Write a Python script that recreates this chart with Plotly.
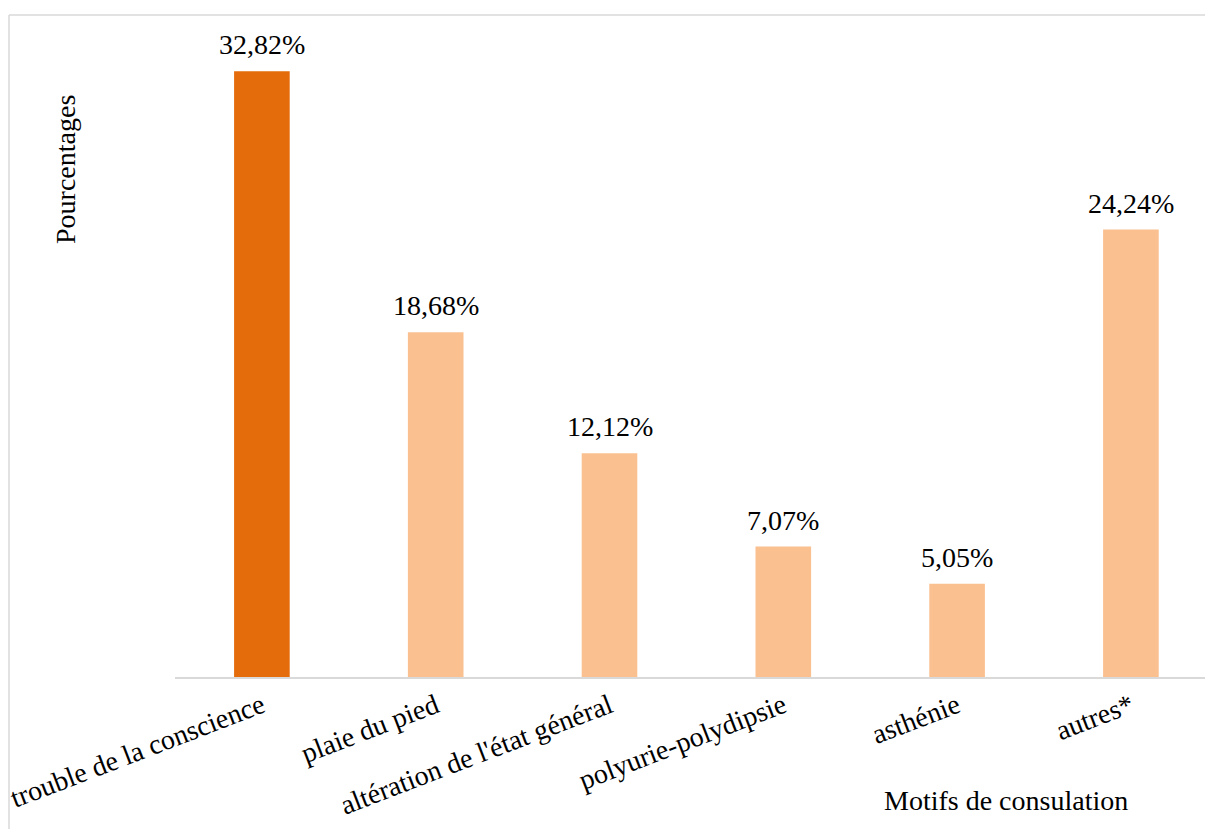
import plotly.graph_objects as go

categories = ["trouble de la conscience", "plaie du pied", "altération de l'état général",
              "polyurie-polydipsie", "asthénie", "autres*"]
values = [32.82, 18.68, 12.12, 7.07, 5.05, 24.24]
colors = ["#E46C0A", "#FAC090", "#FAC090", "#FAC090", "#FAC090", "#FAC090"]
labels = [f"{v:.2f}".replace(".", ",") + "%" for v in values]

FONT = "Liberation Serif, Times New Roman, serif"
FS = 28

L, T = 175, 31
PLOT_BOTTOM = 677
W, H = 1205, 829
PW = W - L
PH = PLOT_BOTTOM - T


def px(x):
    return (x - L) / PW


def py(y):
    return (PLOT_BOTTOM - y) / PH


xs = list(range(len(categories)))

fig = go.Figure()
fig.add_trace(go.Bar(
    x=xs, y=values,
    marker=dict(color=colors, line=dict(width=0)),
    width=0.32,
    hoverinfo="skip",
))

annotations = [
    dict(x=xi, y=v, text=t, xref="x", yref="y", xanchor="center", yanchor="bottom",
         yshift=9, showarrow=False, font=dict(family=FONT, size=FS, color="#000000"))
    for xi, v, t in zip(xs, values, labels)
]
annotations += [
    dict(text="Pourcentages", textangle=-90, xref="paper", yref="paper",
         x=px(65), y=py(170), xanchor="center", yanchor="middle", showarrow=False,
         font=dict(family=FONT, size=FS, color="#000000")),
    dict(text="Motifs de consulation", xref="paper", yref="paper",
         x=px(1006), y=py(800), xanchor="center", yanchor="middle", showarrow=False,
         font=dict(family=FONT, size=FS, color="#000000")),
]

fig.update_layout(
    width=W, height=H,
    margin=dict(l=L, r=0, t=T, b=H - PLOT_BOTTOM),
    paper_bgcolor="white", plot_bgcolor="white",
    showlegend=False,
    font=dict(family=FONT, size=FS, color="#000000"),
    xaxis=dict(
        tickmode="array", tickvals=xs, ticktext=categories,
        tickangle=-21, range=[-0.5, -0.5 + PW / 173.8],
        ticklabeloverflow="allow",
        showline=True, linecolor="#D9D9D9", linewidth=1.5,
        showgrid=False, zeroline=False, ticks="",
        tickfont=dict(family=FONT, size=FS, color="#000000"),
    ),
    yaxis=dict(range=[0, 35], visible=False, showgrid=False, zeroline=False),
    annotations=annotations,
    shapes=[
        dict(type="line", xref="paper", yref="paper", x0=px(9), x1=px(9), y0=-0.5, y1=py(15),
             line=dict(color="#D9D9D9", width=1.5)),
        dict(type="line", xref="paper", yref="paper", x0=px(9), x1=1.2, y0=py(15), y1=py(15),
             line=dict(color="#D9D9D9", width=1.5)),
    ],
)

fig.write_html("out.html",
               config={"displayModeBar": False},
               post_script="document.body.style.margin='0px';document.body.style.overflow='hidden';")
